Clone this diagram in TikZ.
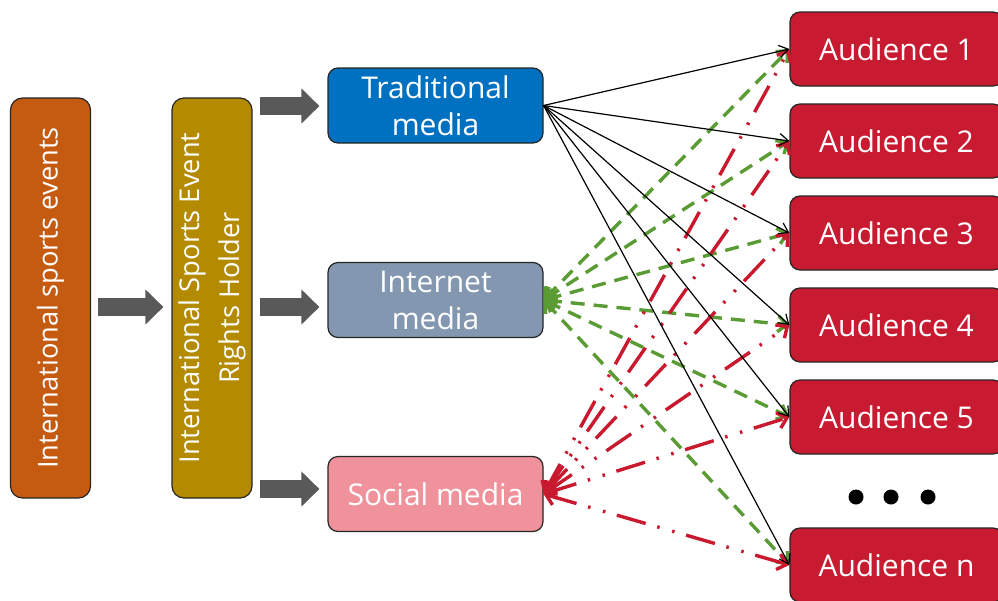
\documentclass[tikz,border=0pt]{standalone}
\usepackage{fontspec}
\setmainfont{Open Sans}
\usetikzlibrary{arrows.meta}
\definecolor{cOrange}{HTML}{C55A11}
\definecolor{cGold}{HTML}{B38A00}
\definecolor{cBlue}{HTML}{0070C0}
\definecolor{cInet}{HTML}{8497B0}
\definecolor{cSoc}{HTML}{EF929C}
\definecolor{cAud}{HTML}{C81A30}
\definecolor{cGray}{HTML}{595959}
\definecolor{cGreen}{HTML}{5A9B34}
\definecolor{cRed}{HTML}{C8192E}
\begin{document}
\begin{tikzpicture}[x=1pt,y=-1pt,
  box/.style={draw=black!85, line width=1.2pt, rounded corners=10pt, inner sep=0pt, text=white, align=center, font=\fontsize{30}{37}\selectfont},
  tall/.style={box, minimum width=80pt, minimum height=400pt, rounded corners=12pt},
  media/.style={box, minimum width=215pt, minimum height=75pt},
  aud/.style={box, fill=cAud, minimum width=213pt, minimum height=74pt},
  vtext/.style={rotate=90, text=white, align=center, font=\fontsize{27.3}{40}\selectfont, inner sep=0pt},
  blk/.style={draw=cGray, line width=18pt, -{Triangle[length=18pt,width=34pt]}, shorten <=7pt, shorten >=8pt},
  trad/.style={draw=black, line width=1.2pt, -{Straight Barb[length=9pt,width=12pt]}},
  inet/.style={draw=cGreen, line width=3.4pt, dash pattern=on 14pt off 9pt, {Straight Barb[length=9pt,width=16pt]}-{Straight Barb[length=9pt,width=16pt]}},
  socl/.style={draw=cRed, line width=3.4pt, dash pattern=on 30pt off 12pt on 2.5pt off 13pt on 2.5pt off 12pt, {Straight Barb[length=9pt,width=16pt]}-{Straight Barb[length=9pt,width=16pt]}},
  edot/.style={circle, fill=black, minimum size=15pt, inner sep=0pt}
]
\useasboundingbox (0,0) rectangle (998,600);
\fill[white] (0,0) rectangle (998,600);

% left boxes
\node[tall, fill=cOrange] (ev) at (50.5,298) {};
\node[vtext] (evt) at (ev.center) {International sports events};
\node[tall, fill=cGold] (rh) at (212,298) {};
\node[vtext] (rht) at (rh.center) {International Sports Event\\Rights Holder};

% media boxes
\node[media, fill=cBlue] (tm) at (435.5,105.5) {Traditional\\media};
\node[media, fill=cInet] (im) at (435.5,300) {Internet\\media};
\node[media, fill=cSoc] (sm) at (435.5,494) {Social media};

% audiences
\node[aud] (a1) at (896.5,49) {Audience 1};
\node[aud] (a2) at (896.5,141) {Audience 2};
\node[aud] (a3) at (896.5,233) {Audience 3};
\node[aud] (a4) at (896.5,325) {Audience 4};
\node[aud] (a5) at (896.5,417) {Audience 5};
\node[aud] (an) at (896.5,565) {Audience n};

\node[edot] (d1) at (856,497) {};
\node[edot] (d2) at (891,497) {};
\node[edot] (d3) at (928,497) {};

% block arrows
\coordinate (ytop) at (0,106);
\coordinate (ymid) at (0,307);
\coordinate (ybot) at (0,489);
\draw[blk] (ev.east |- ymid) -- (rh.west |- ymid);
\draw[blk] (rh.east |- ytop) -- (tm.west |- ytop);
\draw[blk] (rh.east |- ymid) -- (im.west |- ymid);
\draw[blk] (rh.east |- ybot) -- (sm.west |- ybot);

% internet media (green, dashed)
\foreach \a in {a1,a2,a3,a4,a5,an}
  \draw[inet] (im.east) -- (\a.west);
% social media (red, dash-dot-dot)
\foreach \a in {a1,a2,a3,a4,a5,an}
  \draw[socl] (sm.east) -- (\a.west);
% traditional media (black)
\foreach \a in {a1,a2,a3,a4,a5,an}
  \draw[trad] (tm.east) -- (\a.west);
\end{tikzpicture}
\end{document}
